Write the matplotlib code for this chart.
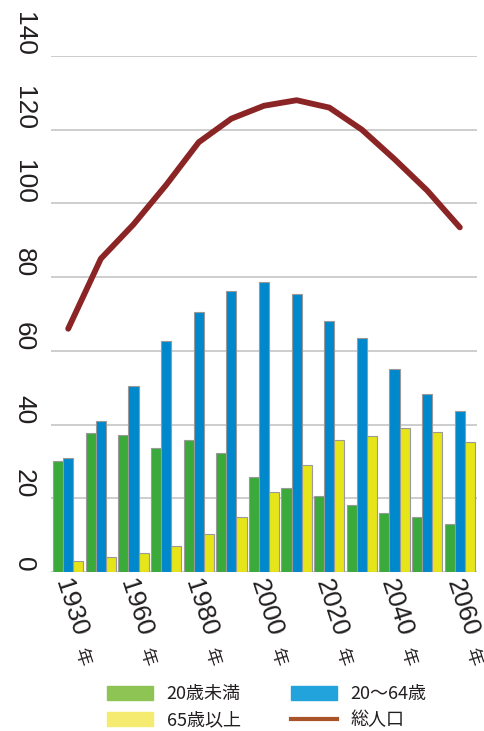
import numpy as np
import matplotlib.pyplot as plt
from matplotlib.patches import Patch
from matplotlib.lines import Line2D

# data (millions)
years = ['1930', '1950', '1960', '1970', '1980', '1990', '2000',
         '2010', '2020', '2030', '2040', '2050', '2060']
under20 = [30.2, 37.8, 37.2, 33.7, 35.9, 32.3, 25.8, 22.8, 20.7, 18.2, 16.0, 15.0, 13.0]
age20_64 = [31.0, 41.0, 50.5, 62.6, 70.5, 76.2, 78.6, 75.5, 68.2, 63.6, 55.2, 48.4, 43.8]
over65 = [3.0, 4.1, 5.2, 7.1, 10.3, 15.0, 21.7, 29.0, 35.9, 37.0, 39.1, 38.0, 35.3]
total = [66.0, 85.0, 94.3, 105.0, 116.6, 123.0, 126.5, 128.0, 126.0, 120.0, 112.0, 103.5, 93.5]
legend_labels = ['20歳未満', '65歳以上', '20〜64歳', '総人口']
yticks = [0, 20, 40, 60, 80, 100, 120, 140]

num_font = ['Liberation Sans', 'DejaVu Sans']
jp_font = ['Noto Sans CJK JP', 'DejaVu Sans']
text_col = '#231f20'

fig = plt.figure(figsize=(4.85, 7.31), dpi=100)
ax = fig.add_axes([0.1052, 0.2175, 0.8783, 0.7059])

x = np.arange(len(years))
w = 0.31
edge = dict(edgecolor='#9a9a9a', linewidth=0.8)
ax.bar(x - w, under20, w, color='#3aaa3a', **edge)
ax.bar(x, age20_64, w, color='#0088cc', **edge)
ax.bar(x + w, over65, w, color='#e5e51a', **edge)
ax.plot(x, total, color='#8b2525', lw=4.2, solid_capstyle='round',
        solid_joinstyle='round')

ax.set_xlim(-0.526, 12.526)
ax.set_ylim(0, 140)
ax.set_yticks(yticks, [str(v) for v in yticks], rotation=-90, ha='center',
              va='bottom', fontsize=19, family=num_font, color=text_col)
ax.tick_params(axis='y', length=0, pad=19.5)
ax.set_xticks([])
ax.grid(axis='y', color='#c9c9c9', lw=1.3)
ax.set_axisbelow(True)
for s in ax.spines.values():
    s.set_visible(False)

# rotated year labels with a smaller 年
for i in range(0, len(years), 2):
    ax.annotate(years[i], xy=(x[i], 0), xycoords=('data', 'axes fraction'),
                xytext=(-5.0, -5.8), textcoords='offset points',
                rotation=-72, rotation_mode='anchor', ha='left', va='center',
                fontsize=19, family=num_font, color=text_col)
    ax.annotate('年', xy=(x[i], 0), xycoords=('data', 'axes fraction'),
                xytext=(9.5, -61.0), textcoords='offset points',
                rotation=-72, rotation_mode='anchor', ha='center', va='center',
                fontsize=13, family=jp_font, color=text_col)

handles = [Patch(color='#8dc453'), Patch(color='#f5eb70'),
           Patch(color='#22a3dc'), Line2D([], [], color='#aa5228', lw=3)]
fig.legend(handles, legend_labels, ncol=2, loc='upper left',
           bbox_to_anchor=(0.2206, 0.0625), frameon=False,
           prop={'family': jp_font, 'size': 13}, handlelength=2.55,
           handleheight=0.85, handletextpad=0.75, columnspacing=2.8,
           labelspacing=0.45, borderpad=0, borderaxespad=0, labelcolor=text_col)

fig.savefig('out.png', dpi=100)
